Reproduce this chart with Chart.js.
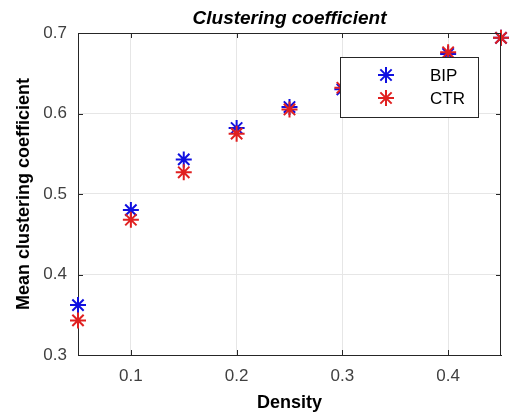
<!DOCTYPE html>
<html>
<head>
<meta charset="utf-8">
<script src="https://cdn.jsdelivr.net/npm/chart.js@4"></script>
<style>
  html, body { margin: 0; padding: 0; background: #fff; }
  #wrap { width: 511px; height: 417px; }
</style>
</head>
<body>
<div id="wrap"><canvas id="cc"></canvas></div>
<script>
// data
const density = [0.05, 0.10, 0.15, 0.20, 0.25, 0.30, 0.35, 0.40, 0.45];
const bipValues = [0.362, 0.480, 0.543, 0.582, 0.608, 0.630, 0.652, 0.674, 0.694];
const ctrValues = [0.343, 0.468, 0.527, 0.575, 0.605, 0.632, 0.654, 0.676, 0.694];
const seriesNames = ['BIP', 'CTR'];
const seriesColors = ['#1010e0', '#e02020'];
const xTicks = [0.1, 0.2, 0.3, 0.4];
const yTicks = [0.3, 0.4, 0.5, 0.6, 0.7];

const FONT = '"Liberation Sans", Arial, sans-serif';
const toPts = vals => density.map((d, i) => ({ x: d, y: vals[i] }));

// draw an 8-armed asterisk like matlab's '*'
function asterisk(ctx, x, y, r, color) {
    ctx.strokeStyle = color;
    ctx.lineWidth = 2;
    ctx.beginPath();
    for (let k = 0; k < 4; k++) {
        const ang = k * Math.PI / 4;
        ctx.moveTo(x - r * Math.cos(ang), y - r * Math.sin(ang));
        ctx.lineTo(x + r * Math.cos(ang), y + r * Math.sin(ang));
    }
    ctx.stroke();
}

// box, inward ticks, title and in-plot legend (matlab look)
const matlabBits = {
    id: 'matlabBits',
    afterDatasetsDraw(chart) {
        const { ctx, chartArea: a, scales } = chart;
        ctx.save();
        ctx.strokeStyle = '#262626';
        ctx.lineWidth = 1;
        ctx.beginPath();
        // top and right edges of the box
        ctx.moveTo(a.left, a.top + 0.5); ctx.lineTo(a.right, a.top + 0.5);
        ctx.moveTo(a.right - 0.5, a.top); ctx.lineTo(a.right - 0.5, a.bottom);
        xTicks.forEach(t => {
            const px = Math.round(scales.x.getPixelForValue(t)) + 0.5;
            ctx.moveTo(px, a.bottom); ctx.lineTo(px, a.bottom - 5);
            ctx.moveTo(px, a.top); ctx.lineTo(px, a.top + 5);
        });
        yTicks.forEach(t => {
            const py = Math.round(scales.y.getPixelForValue(t)) + 0.5;
            ctx.moveTo(a.left, py); ctx.lineTo(a.left + 5, py);
            ctx.moveTo(a.right, py); ctx.lineTo(a.right - 5, py);
        });
        ctx.stroke();

        // legend box
        const bx = 340, by = 57, bw = 138, bh = 60;
        ctx.fillStyle = '#fff';
        ctx.fillRect(bx, by, bw, bh);
        ctx.strokeStyle = '#262626';
        ctx.lineWidth = 1;
        ctx.strokeRect(bx + 0.5, by + 0.5, bw, bh);
        ctx.font = '17px ' + FONT;
        ctx.textBaseline = 'middle';
        seriesNames.forEach((name, i) => {
            const cy = by + 18 + i * 23;
            asterisk(ctx, 386, cy, 8, seriesColors[i]);
            ctx.fillStyle = '#000';
            ctx.fillText(name, 430, cy + 1);
        });
        ctx.restore();
    },
    afterDraw(chart) {
        const { ctx, chartArea: a } = chart;
        ctx.save();
        ctx.fillStyle = '#000';
        ctx.font = 'italic bold 19px ' + FONT;
        ctx.textAlign = 'center';
        ctx.textBaseline = 'middle';
        ctx.fillText('Clustering coefficient', (a.left + a.right) / 2, 19);
        ctx.restore();
    }
};

const starDs = (label, vals, color) => ({
    label: label,
    data: toPts(vals),
    showLine: false,
    pointStyle: 'star',
    pointRadius: 8,
    pointHoverRadius: 8,
    pointBorderWidth: 2,
    borderColor: color,
    backgroundColor: color,
    clip: false
});

new Chart(document.getElementById('cc'), {
    type: 'scatter',
    data: {
        datasets: [
            starDs(seriesNames[1], ctrValues, seriesColors[1]),
            starDs(seriesNames[0], bipValues, seriesColors[0])
        ]
    },
    plugins: [matlabBits],
    options: {
        responsive: true,
        maintainAspectRatio: false,
        animation: false,
        layout: { padding: { top: 33, right: 9, left: 0, bottom: 0 } },
        plugins: { legend: { display: false }, tooltip: { enabled: false } },
        scales: {
            x: {
                type: 'linear', min: 0.05, max: 0.45,
                afterBuildTicks: s => { s.ticks = xTicks.map(v => ({ value: v })); },
                afterFit: s => { s.height = 62; },
                grid: { color: '#e6e6e6', drawTicks: false },
                border: { color: '#262626', width: 1 },
                ticks: { color: '#404040', font: { family: FONT, size: 17 }, padding: 11,
                         callback: v => v.toFixed(1) },
                title: { display: true, text: 'Density', color: '#000',
                         font: { family: FONT, size: 18, weight: 'bold' }, padding: { top: 0, bottom: 3 } }
            },
            y: {
                min: 0.3, max: 0.7,
                afterBuildTicks: s => { s.ticks = yTicks.map(v => ({ value: v })); },
                afterFit: s => { s.width = 78; },
                grid: { color: '#e6e6e6', drawTicks: false },
                border: { color: '#262626', width: 1 },
                ticks: { color: '#404040', font: { family: FONT, size: 17 }, padding: 11,
                         callback: v => v.toFixed(1) },
                title: { display: true, text: 'Mean clustering coefficient', color: '#000',
                         font: { family: FONT, size: 18, weight: 'bold' }, padding: { top: 13, bottom: 0 } }
            }
        }
    }
});
</script>
</body>
</html>
